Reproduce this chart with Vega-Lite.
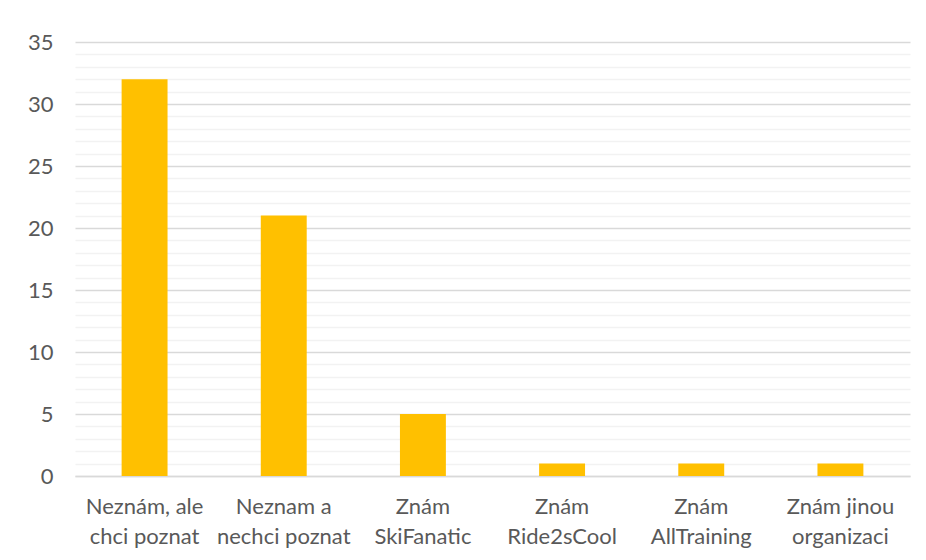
{
  "$schema": "https://vega.github.io/schema/vega-lite/v6.json",
  "width": 835,
  "height": 434,
  "autosize": {"type": "none"},
  "padding": {"left": 75, "top": 42, "right": 16, "bottom": 84},
  "background": "white",
  "data": {
    "values": [
      {"kategorie": "Neznám, ale|chci poznat", "pocet": 32},
      {"kategorie": "Neznam a|nechci poznat", "pocet": 21},
      {"kategorie": "Znám|SkiFanatic", "pocet": 5},
      {"kategorie": "Znám|Ride2sCool", "pocet": 1},
      {"kategorie": "Znám|AllTraining", "pocet": 1},
      {"kategorie": "Znám jinou|organizaci", "pocet": 1}
    ]
  },
  "mark": {"type": "bar", "color": "#ffc000"},
  "encoding": {
    "x": {
      "field": "kategorie",
      "type": "nominal",
      "sort": null,
      "scale": {"paddingInner": 0.67, "paddingOuter": 0.335},
      "axis": {
        "title": null,
        "labelAngle": 0,
        "labelExpr": "split(datum.label, '|')",
        "labelFont": "Lato",
        "labelFontSize": 22,
        "labelFontWeight": "normal",
        "labelColor": "#595959",
        "labelLineHeight": 30,
        "labelPadding": 20,
        "ticks": false,
        "domainColor": "#d9d9d9",
        "domainWidth": 1.5
      }
    },
    "y": {
      "field": "pocet",
      "type": "quantitative",
      "scale": {"domain": [0, 35], "nice": false},
      "axis": {
        "title": null,
        "values": [0,1,2,3,4,5,6,7,8,9,10,11,12,13,14,15,16,17,18,19,20,21,22,23,24,25,26,27,28,29,30,31,32,33,34,35],
        "labelExpr": "datum.value % 5 === 0 ? datum.label : ''",
        "labelFont": "Lato",
        "labelFontSize": 22,
        "labelFontWeight": "normal",
        "labelColor": "#595959",
        "labelPadding": 22,
        "ticks": false,
        "domain": false,
        "grid": true,
        "gridColor": {"condition": {"test": "datum.value % 5 === 0", "value": "#d9d9d9"}, "value": "#f2f2f2"},
        "gridWidth": 1.5,
        "zindex": 0
      }
    }
  },
  "config": {"view": {"stroke": null}}
}
